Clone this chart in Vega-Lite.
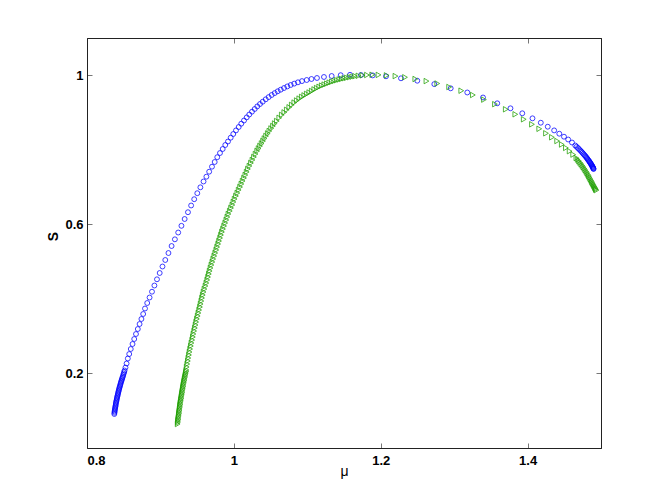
{
  "$schema": "https://vega.github.io/schema/vega-lite/v6.json",
  "width": 514,
  "height": 410,
  "autosize": {"type": "none"},
  "padding": {"left": 87, "top": 38, "right": 63, "bottom": 56},
  "background": "white",
  "config": {
    "view": {"stroke": "#222222", "strokeWidth": 1},
    "axis": {
      "grid": false,
      "labelFont": "Liberation Sans",
      "labelFontWeight": "bold",
      "labelFontSize": 13,
      "labelColor": "#000000",
      "domainColor": "#222222",
      "tickColor": "#777777",
      "tickSize": -5,
      "tickWidth": 1,
      "titleFont": "Liberation Sans",
      "titleFontSize": 14,
      "titleFontWeight": "normal",
      "titleColor": "#000000"
    }
  },
  "datasets": {
    "blue": [
      {"m":0.8372,"S":0.0912},{"m":0.8376,"S":0.0979},{"m":0.8381,"S":0.1046},{"m":0.8387,"S":0.1113},{"m":0.8392,"S":0.1180},
      {"m":0.8399,"S":0.1247},{"m":0.8406,"S":0.1314},{"m":0.8413,"S":0.1381},{"m":0.8421,"S":0.1448},{"m":0.8429,"S":0.1515},
      {"m":0.8437,"S":0.1582},{"m":0.8447,"S":0.1649},{"m":0.8456,"S":0.1716},{"m":0.8466,"S":0.1784},{"m":0.8477,"S":0.1851},
      {"m":0.8488,"S":0.1918},{"m":0.8500,"S":0.1998},{"m":0.8512,"S":0.2079},{"m":0.8524,"S":0.2159},{"m":0.8539,"S":0.2267},
      {"m":0.8374,"S":0.0945},{"m":0.8378,"S":0.1012},{"m":0.8384,"S":0.1079},{"m":0.8390,"S":0.1146},{"m":0.8395,"S":0.1213},
      {"m":0.8402,"S":0.1280},{"m":0.8409,"S":0.1347},{"m":0.8417,"S":0.1414},{"m":0.8425,"S":0.1481},{"m":0.8433,"S":0.1548},
      {"m":0.8442,"S":0.1615},{"m":0.8451,"S":0.1682},{"m":0.8461,"S":0.1750},{"m":0.8471,"S":0.1817},{"m":0.8482,"S":0.1884},
      {"m":0.8494,"S":0.1958},{"m":0.8506,"S":0.2038},
      {"m":0.8556,"S":0.2401},{"m":0.8575,"S":0.2521},{"m":0.8596,"S":0.2656},{"m":0.8620,"S":0.2790},{"m":0.8643,"S":0.2924},
      {"m":0.8667,"S":0.3058},{"m":0.8692,"S":0.3192},{"m":0.8716,"S":0.3326},{"m":0.8741,"S":0.3461},{"m":0.8765,"S":0.3595},
      {"m":0.8790,"S":0.3742},{"m":0.8820,"S":0.3890},{"m":0.8852,"S":0.4037},{"m":0.8885,"S":0.4193},{"m":0.8918,"S":0.4359},
      {"m":0.8953,"S":0.4526},{"m":0.8990,"S":0.4695},{"m":0.9028,"S":0.4869},{"m":0.9066,"S":0.5044},{"m":0.9109,"S":0.5231},
      {"m":0.9152,"S":0.5419},{"m":0.9197,"S":0.5599},{"m":0.9242,"S":0.5781},{"m":0.9286,"S":0.5961},{"m":0.9330,"S":0.6144},
      {"m":0.9375,"S":0.6326},{"m":0.9418,"S":0.6506},{"m":0.9460,"S":0.6675},{"m":0.9502,"S":0.6836},{"m":0.9544,"S":0.6994},
      {"m":0.9587,"S":0.7150},{"m":0.9626,"S":0.7279},{"m":0.9664,"S":0.7413},{"m":0.9702,"S":0.7547},{"m":0.9739,"S":0.7673},
      {"m":0.9774,"S":0.7802},{"m":0.9811,"S":0.7914},{"m":0.9848,"S":0.8022},{"m":0.9883,"S":0.8129},{"m":0.9920,"S":0.8223},
      {"m":0.9957,"S":0.8325},{"m":0.9992,"S":0.8424},{"m":1.0029,"S":0.8521},{"m":1.0066,"S":0.8612},{"m":1.0101,"S":0.8701},
      {"m":1.0138,"S":0.8786},{"m":1.0175,"S":0.8870},{"m":1.0210,"S":0.8947},{"m":1.0247,"S":0.9023},{"m":1.0284,"S":0.9095},
      {"m":1.0319,"S":0.9165},{"m":1.0356,"S":0.9229},{"m":1.0393,"S":0.9291},{"m":1.0434,"S":0.9355},{"m":1.0474,"S":0.9414},
      {"m":1.0515,"S":0.9471},{"m":1.0556,"S":0.9522},{"m":1.0597,"S":0.9570},{"m":1.0638,"S":0.9613},{"m":1.0683,"S":0.9658},
      {"m":1.0728,"S":0.9701},{"m":1.0774,"S":0.9739},{"m":1.0822,"S":0.9776},{"m":1.0873,"S":0.9811},{"m":1.0928,"S":0.9844},
      {"m":1.0992,"S":0.9873},{"m":1.1057,"S":0.9900},{"m":1.1132,"S":0.9927},{"m":1.1227,"S":0.9954},{"m":1.1332,"S":0.9980},
      {"m":1.1455,"S":1.0002},{"m":1.1582,"S":1.0013},{"m":1.1731,"S":1.0007},{"m":1.1891,"S":0.9997},{"m":1.2072,"S":0.9972},
      {"m":1.2276,"S":0.9919},{"m":1.2498,"S":0.9854},{"m":1.2730,"S":0.9763},{"m":1.2953,"S":0.9650},{"m":1.3179,"S":0.9538},
      {"m":1.3393,"S":0.9404},{"m":1.3587,"S":0.9248},{"m":1.3767,"S":0.9114},{"m":1.3928,"S":0.8980},{"m":1.4067,"S":0.8845},
      {"m":1.4180,"S":0.8727},{"m":1.4275,"S":0.8620},{"m":1.4362,"S":0.8521},{"m":1.4432,"S":0.8432},{"m":1.4496,"S":0.8352},
      {"m":1.4553,"S":0.8277},{"m":1.4605,"S":0.8196},{"m":1.4650,"S":0.8116},{"m":1.4686,"S":0.8049},{"m":1.4719,"S":0.7982},
      {"m":1.4748,"S":0.7920},{"m":1.4774,"S":0.7861},{"m":1.4797,"S":0.7807},{"m":1.4817,"S":0.7753},{"m":1.4835,"S":0.7705},
      {"m":1.4850,"S":0.7660},{"m":1.4864,"S":0.7619},{"m":1.4876,"S":0.7579},{"m":1.4885,"S":0.7544},{"m":1.4894,"S":0.7512},
      {"m":1.4899,"S":0.7485},
      {"m":1.4668,"S":0.8082},{"m":1.4703,"S":0.8015},{"m":1.4734,"S":0.7951},{"m":1.4761,"S":0.7890},{"m":1.4786,"S":0.7834},
      {"m":1.4807,"S":0.7780},{"m":1.4826,"S":0.7729},{"m":1.4843,"S":0.7682},{"m":1.4857,"S":0.7639},{"m":1.4870,"S":0.7599},
      {"m":1.4881,"S":0.7561},{"m":1.4890,"S":0.7528},{"m":1.4897,"S":0.7498}
    ],
    "green": [
      {"m":0.9235,"S":0.0643},{"m":0.9241,"S":0.0724},{"m":0.9246,"S":0.0804},{"m":0.9251,"S":0.0885},{"m":0.9257,"S":0.0965},
      {"m":0.9262,"S":0.1046},{"m":0.9268,"S":0.1126},{"m":0.9273,"S":0.1207},{"m":0.9280,"S":0.1287},{"m":0.9287,"S":0.1368},
      {"m":0.9294,"S":0.1448},{"m":0.9300,"S":0.1529},{"m":0.9307,"S":0.1609},{"m":0.9314,"S":0.1690},{"m":0.9322,"S":0.1770},
      {"m":0.9330,"S":0.1851},{"m":0.9339,"S":0.1931},{"m":0.9347,"S":0.2012},{"m":0.9355,"S":0.2092},
      {"m":0.9238,"S":0.0683},{"m":0.9243,"S":0.0764},{"m":0.9249,"S":0.0845},{"m":0.9254,"S":0.0925},{"m":0.9260,"S":0.1006},
      {"m":0.9265,"S":0.1086},{"m":0.9271,"S":0.1167},{"m":0.9277,"S":0.1247},{"m":0.9284,"S":0.1328},{"m":0.9290,"S":0.1408},
      {"m":0.9297,"S":0.1489},{"m":0.9304,"S":0.1569},{"m":0.9311,"S":0.1650},{"m":0.9318,"S":0.1730},{"m":0.9326,"S":0.1811},
      {"m":0.9334,"S":0.1891},{"m":0.9343,"S":0.1972},{"m":0.9351,"S":0.2052},
      {"m":0.9358,"S":0.2173},
      {"m":0.9366,"S":0.2253},{"m":0.9374,"S":0.2334},{"m":0.9381,"S":0.2414},{"m":0.9389,"S":0.2495},{"m":0.9397,"S":0.2575},
      {"m":0.9405,"S":0.2656},{"m":0.9415,"S":0.2736},{"m":0.9423,"S":0.2817},{"m":0.9433,"S":0.2897},{"m":0.9442,"S":0.2978},
      {"m":0.9450,"S":0.3058},{"m":0.9460,"S":0.3139},{"m":0.9469,"S":0.3219},{"m":0.9479,"S":0.3300},{"m":0.9487,"S":0.3380},
      {"m":0.9497,"S":0.3461},{"m":0.9508,"S":0.3541},{"m":0.9518,"S":0.3622},{"m":0.9528,"S":0.3702},{"m":0.9539,"S":0.3783},
      {"m":0.9548,"S":0.3863},{"m":0.9558,"S":0.3943},{"m":0.9567,"S":0.4024},{"m":0.9577,"S":0.4104},{"m":0.9588,"S":0.4185},
      {"m":0.9600,"S":0.4265},{"m":0.9614,"S":0.4346},{"m":0.9626,"S":0.4426},{"m":0.9638,"S":0.4507},{"m":0.9649,"S":0.4587},
      {"m":0.9660,"S":0.4668},{"m":0.9671,"S":0.4748},{"m":0.9683,"S":0.4829},{"m":0.9695,"S":0.4909},{"m":0.9708,"S":0.4990},
      {"m":0.9720,"S":0.5070},{"m":0.9734,"S":0.5151},{"m":0.9747,"S":0.5231},{"m":0.9761,"S":0.5312},{"m":0.9773,"S":0.5392},
      {"m":0.9787,"S":0.5473},{"m":0.9799,"S":0.5553},{"m":0.9813,"S":0.5634},{"m":0.9825,"S":0.5714},{"m":0.9838,"S":0.5795},
      {"m":0.9853,"S":0.5875},{"m":0.9868,"S":0.5956},{"m":0.9883,"S":0.6036},{"m":0.9898,"S":0.6117},{"m":0.9912,"S":0.6197},
      {"m":0.9927,"S":0.6278},{"m":0.9945,"S":0.6358},{"m":0.9962,"S":0.6439},{"m":0.9980,"S":0.6519},{"m":0.9995,"S":0.6600},
      {"m":1.0011,"S":0.6680},{"m":1.0029,"S":0.6761},{"m":1.0048,"S":0.6841},{"m":1.0066,"S":0.6922},{"m":1.0085,"S":0.7002},
      {"m":1.0103,"S":0.7083},{"m":1.0120,"S":0.7163},{"m":1.0139,"S":0.7244},{"m":1.0157,"S":0.7324},{"m":1.0175,"S":0.7405},
      {"m":1.0192,"S":0.7485},{"m":1.0213,"S":0.7566},{"m":1.0233,"S":0.7646},{"m":1.0254,"S":0.7727},{"m":1.0274,"S":0.7807},
      {"m":1.0296,"S":0.7888},{"m":1.0318,"S":0.7968},{"m":1.0337,"S":0.8035},{"m":1.0357,"S":0.8102},{"m":1.0378,"S":0.8169},
      {"m":1.0398,"S":0.8236},{"m":1.0417,"S":0.8303},{"m":1.0439,"S":0.8371},{"m":1.0462,"S":0.8438},{"m":1.0484,"S":0.8505},
      {"m":1.0508,"S":0.8572},{"m":1.0533,"S":0.8639},{"m":1.0557,"S":0.8706},{"m":1.0585,"S":0.8773},{"m":1.0619,"S":0.8859},
      {"m":1.0653,"S":0.8937},{"m":1.0687,"S":0.9004},{"m":1.0721,"S":0.9074},{"m":1.0755,"S":0.9141},{"m":1.0789,"S":0.9205},
      {"m":1.0823,"S":0.9267},{"m":1.0857,"S":0.9323},{"m":1.0891,"S":0.9374},{"m":1.0925,"S":0.9420},{"m":1.0959,"S":0.9460},
      {"m":1.0993,"S":0.9500},{"m":1.1027,"S":0.9538},{"m":1.1061,"S":0.9578},{"m":1.1095,"S":0.9621},{"m":1.1129,"S":0.9656},
      {"m":1.1163,"S":0.9691},{"m":1.1197,"S":0.9723},{"m":1.1232,"S":0.9750},{"m":1.1266,"S":0.9776},{"m":1.1300,"S":0.9803},
      {"m":1.1334,"S":0.9827},{"m":1.1368,"S":0.9849},{"m":1.1402,"S":0.9868},{"m":1.1436,"S":0.9887},{"m":1.1470,"S":0.9903},
      {"m":1.1504,"S":0.9919},{"m":1.1538,"S":0.9932},{"m":1.1575,"S":0.9948},{"m":1.1613,"S":0.9962},{"m":1.1652,"S":0.9975},
      {"m":1.1697,"S":0.9986},{"m":1.1752,"S":0.9999},{"m":1.1813,"S":1.0007},{"m":1.1885,"S":1.0013},{"m":1.1970,"S":1.0010},
      {"m":1.2081,"S":0.9997},{"m":1.2201,"S":0.9978},{"m":1.2331,"S":0.9946},{"m":1.2471,"S":0.9900},{"m":1.2623,"S":0.9844},
      {"m":1.2770,"S":0.9779},{"m":1.2932,"S":0.9685},{"m":1.3097,"S":0.9586},{"m":1.3255,"S":0.9471},{"m":1.3406,"S":0.9347},
      {"m":1.3556,"S":0.9224},{"m":1.3703,"S":0.9087},{"m":1.3833,"S":0.8953},{"m":1.3948,"S":0.8819},{"m":1.4060,"S":0.8684},
      {"m":1.4159,"S":0.8564},{"m":1.4251,"S":0.8443},{"m":1.4332,"S":0.8336},{"m":1.4403,"S":0.8236},{"m":1.4466,"S":0.8143},
      {"m":1.4522,"S":0.8051},{"m":1.4573,"S":0.7963},{"m":1.4621,"S":0.7872},{"m":1.4665,"S":0.7780},{"m":1.4700,"S":0.7699},
      {"m":1.4731,"S":0.7619},{"m":1.4760,"S":0.7539},{"m":1.4787,"S":0.7458},{"m":1.4812,"S":0.7378},{"m":1.4835,"S":0.7297},
      {"m":1.4857,"S":0.7217},{"m":1.4876,"S":0.7144},{"m":1.4894,"S":0.7077},{"m":1.4910,"S":0.7016},{"m":1.4925,"S":0.6962},
      {"m":1.4937,"S":0.6916},
      {"m":1.4683,"S":0.7740},{"m":1.4716,"S":0.7659},{"m":1.4746,"S":0.7579},{"m":1.4774,"S":0.7498},{"m":1.4800,"S":0.7418},
      {"m":1.4824,"S":0.7337},{"m":1.4846,"S":0.7257},{"m":1.4867,"S":0.7180},{"m":1.4885,"S":0.7110},{"m":1.4902,"S":0.7046},
      {"m":1.4918,"S":0.6989},{"m":1.4931,"S":0.6939}
    ]
  },
  "layer": [
    {
      "data": {"name": "blue"},
      "mark": {"type": "point", "shape": "circle", "filled": false, "size": 24, "strokeWidth": 0.75, "color": "#0000ff", "opacity": 1},
      "encoding": {
        "x": {"field": "m", "type": "quantitative",
          "scale": {"domain": [0.8, 1.5], "nice": false, "zero": false},
          "axis": {"orient": "bottom", "values": [0.8, 1, 1.2, 1.4], "format": ".1~f", "labelPadding": 11, "title": "μ", "titleX": 257, "titleY": 27, "titleBaseline": "alphabetic", "titleAlign": "center"}},
        "y": {"field": "S", "type": "quantitative",
          "scale": {"domain": [0, 1.1], "nice": false, "zero": false},
          "axis": {"orient": "left", "values": [0.2, 0.6, 1], "format": ".1~f", "labelPadding": 9, "title": "S", "titleFontWeight": "bold", "titleX": -34, "titleY": 198, "titleAngle": -90, "titleBaseline": "middle", "titleAlign": "center"}}
      }
    },
    {
      "data": {"name": "green"},
      "mark": {"type": "point", "shape": "triangle-right", "filled": false, "size": 30, "strokeWidth": 0.75, "color": "#1f9f00", "opacity": 1},
      "encoding": {
        "x": {"field": "m", "type": "quantitative",
          "scale": {"domain": [0.8, 1.5], "nice": false, "zero": false},
          "axis": {"orient": "top", "values": [0.8, 1, 1.2, 1.4], "labels": false, "title": null}},
        "y": {"field": "S", "type": "quantitative",
          "scale": {"domain": [0, 1.1], "nice": false, "zero": false},
          "axis": {"orient": "right", "values": [0.2, 0.6, 1], "labels": false, "title": null}}
      }
    }
  ],
  "resolve": {"axis": {"x": "independent", "y": "independent"}}
}
